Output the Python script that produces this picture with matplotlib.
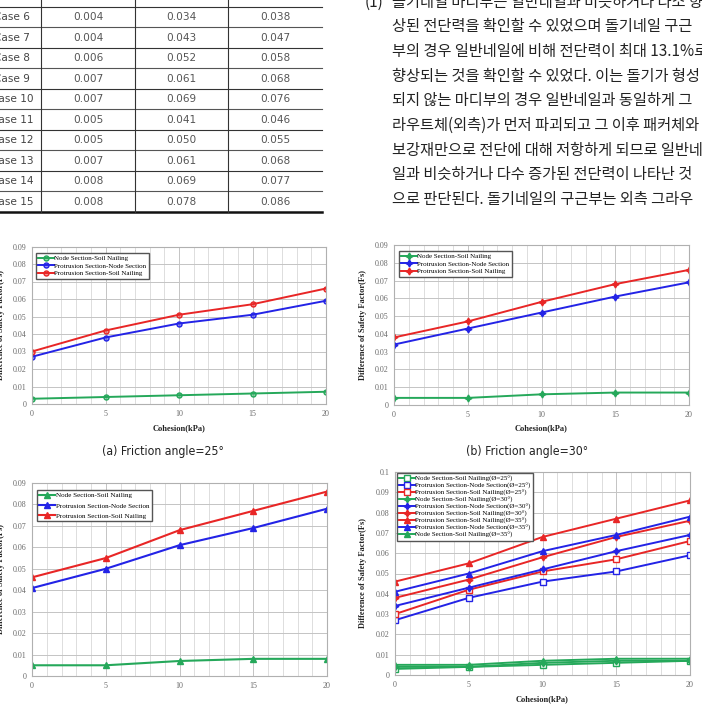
import matplotlib
matplotlib.use("Agg")
import matplotlib.pyplot as plt
from matplotlib.ticker import FuncFormatter, MultipleLocator

# ---------------- data ----------------
cohesion = [0, 5, 10, 15, 20]

node_soil_25 = [0.003, 0.004, 0.005, 0.006, 0.007]
prot_node_25 = [0.027, 0.038, 0.046, 0.051, 0.059]
prot_soil_25 = [0.030, 0.042, 0.051, 0.057, 0.066]

node_soil_30 = [0.004, 0.004, 0.006, 0.007, 0.007]
prot_node_30 = [0.034, 0.043, 0.052, 0.061, 0.069]
prot_soil_30 = [0.038, 0.047, 0.058, 0.068, 0.076]

node_soil_35 = [0.005, 0.005, 0.007, 0.008, 0.008]
prot_node_35 = [0.041, 0.050, 0.061, 0.069, 0.078]
prot_soil_35 = [0.046, 0.055, 0.068, 0.077, 0.086]

case_numbers = list(range(5, 16))
series_names = ["Node Section-Soil Nailing",
                "Protrusion Section-Node Section",
                "Protrusion Section-Soil Nailing"]
captions = ["(a) Friction angle=25\u00b0", "(b) Friction angle=30\u00b0"]

korean_lines = [
    "돌기네일 마디부는 일반네일과 비슷하거나 다소 향",
    "상된 전단력을 확인할 수 있었으며 돌기네일 구근",
    "부의 경우 일반네일에 비해 전단력이 최대 13.1%로",
    "향상되는 것을 확인할 수 있었다. 이는 돌기가 형성",
    "되지 않는 마디부의 경우 일반네일과 동일하게 그",
    "라우트체(외측)가 먼저 파괴되고 그 이후 패커체와",
    "보강재만으로 전단에 대해 저항하게 되므로 일반네",
    "일과 비슷하거나 다수 증가된 전단력이 나타난 것",
    "으로 판단된다. 돌기네일의 구근부는 외측 그라우",
]

# ---------------- style ----------------
GREEN = "#25a85a"
BLUE = "#2323e6"
RED = "#e82626"
W, H = 702, 707
SERIF = ["Liberation Serif", "DejaVu Serif"]

fig = plt.figure(figsize=(W / 100, H / 100), dpi=100)
fig.patch.set_facecolor("white")


def rect(l, top, r, bottom):
    return [l / W, 1 - bottom / H, (r - l) / W, (bottom - top) / H]


# ---------------- table ----------------
ax_t = fig.add_axes(rect(0, 0, 330, 216))
ax_t.set_xlim(0, 330)
ax_t.set_ylim(216, 0)
ax_t.axis("off")

row_h = 20.5
table_rows = []
for c in case_numbers:
    if c <= 5:
        src = (node_soil_25, prot_node_25, prot_soil_25, c - 1)
    elif c <= 10:
        src = (node_soil_30, prot_node_30, prot_soil_30, c - 6)
    else:
        src = (node_soil_35, prot_node_35, prot_soil_35, c - 11)
    i = src[3]
    table_rows.append((f"Case {c}", src[0][i], src[1][i], src[2][i]))

col_x = [12, 88, 181.5, 275]
for k, row in enumerate(table_rows):
    yc = -3.3 + k * row_h
    ax_t.text(col_x[0], yc, row[0], ha="center", va="center", fontsize=7.6,
              color="#444444", family="DejaVu Sans", clip_on=True)
    for j in range(3):
        ax_t.text(col_x[j + 1], yc, f"{row[j + 1]:.3f}", ha="center", va="center",
                  fontsize=7.6, color="#555555", family="DejaVu Sans", clip_on=True)
    if k < len(table_rows) - 1:
        yl = yc + row_h / 2
        ax_t.plot([0, 322], [yl, yl], color="#555555" if k % 2 else "#333333",
                  lw=0.8, clip_on=True)
ax_t.plot([0, 322], [212, 212], color="#111111", lw=1.8, clip_on=True)
for xv in [41, 135, 228]:
    ax_t.plot([xv, xv], [0, 212], color="#333333", lw=0.8, clip_on=True)

# ---------------- Korean paragraph ----------------
kfam = ["Noto Sans CJK KR", "DejaVu Sans"]
fig.text(365 / W, 1 - 2 / H, "(1)", fontsize=11, family=kfam, color="#222222",
         ha="left", va="center")
for i, line in enumerate(korean_lines):
    fig.text(392 / W, 1 - (2 + i * 24.7) / H, line, fontsize=11, family=kfam,
             color="#222222", ha="left", va="center")


# ---------------- charts ----------------
def style_axes(ax, ymax):
    ax.set_xlim(0, 20)
    ax.set_ylim(0, ymax)
    ax.xaxis.set_major_locator(MultipleLocator(5))
    ax.xaxis.set_minor_locator(MultipleLocator(1))
    ax.yaxis.set_major_locator(MultipleLocator(0.01))
    ax.yaxis.set_major_formatter(FuncFormatter(lambda v, p: f"{round(v, 3):g}"))
    ax.grid(True, which="major", color="#c4c4c4", lw=0.7)
    ax.grid(True, which="minor", axis="x", color="#d8d8d8", lw=0.6)
    ax.set_axisbelow(True)
    for s in ax.spines.values():
        s.set_color("#b0b0b0")
        s.set_linewidth(0.8)
    ax.tick_params(which="both", length=0, labelsize=5.8, colors="#6a6a6a", pad=4)
    for lab in ax.get_xticklabels() + ax.get_yticklabels():
        lab.set_family(SERIF)


def add_ylabel(ax, xcoord):
    ax.set_ylabel("Difference of Safety Factor(Fs)", fontsize=6, fontweight="bold",
                  family=SERIF, color="#222222")
    ax.yaxis.set_label_coords(xcoord, 0.5)


def add_xlabel(ax, ycoord):
    ax.set_xlabel("Cohesion(kPa)", fontsize=6, fontweight="bold", family=SERIF,
                  color="#222222")
    ax.xaxis.set_label_coords(0.5, ycoord)


def legend(ax, anchor, spacing, size=5):
    lg = ax.legend(loc="upper left", bbox_to_anchor=anchor, borderaxespad=0,
                   fancybox=False, framealpha=1, edgecolor="#555555",
                   prop={"family": SERIF, "size": size}, handlelength=2.2,
                   handletextpad=0.1, labelspacing=spacing, borderpad=0.35)
    lg.get_frame().set_linewidth(1.0)
    return lg


def light(c):
    return c + "80"


STAR4 = (4, 1, 0)
groups = [
    (node_soil_25, prot_node_25, prot_soil_25),
    (node_soil_30, prot_node_30, prot_soil_30),
    (node_soil_35, prot_node_35, prot_soil_35),
]
colors = [GREEN, BLUE, RED]

# (a)
ax_a = fig.add_axes(rect(32, 246.5, 326, 404))
style_axes(ax_a, 0.09)
for vals, col, name in zip(groups[0], colors, series_names):
    ax_a.plot(cohesion, vals, color=col, lw=1.4, marker="o", ms=3.6,
              mfc=light(col), mec=col, mew=1.0, label=name)
add_ylabel(ax_a, -0.093)
add_xlabel(ax_a, -0.125)
legend(ax_a, ((36 - 32) / 294, (404 - 253) / 157.5), 0.25)

# (b)
ax_b = fig.add_axes(rect(394, 245, 689, 405))
style_axes(ax_b, 0.09)
for vals, col, name in zip(groups[1], colors, series_names):
    ax_b.plot(cohesion, vals, color=col, lw=1.4, marker=STAR4, ms=5,
              mfc=col, mec=col, label=name)
add_ylabel(ax_b, -0.092)
add_xlabel(ax_b, -0.118)
legend(ax_b, ((399 - 394) / 295, (405 - 251) / 160), 0.25)

# (c)
ax_c = fig.add_axes(rect(32, 483, 327, 676))
style_axes(ax_c, 0.09)
for vals, col, name in zip(groups[2], colors, series_names):
    ax_c.plot(cohesion, vals, color=col, lw=1.5, marker="^", ms=4.2,
              mfc=col, mec=col, label=name)
add_ylabel(ax_c, -0.092)
legend(ax_c, ((37 - 32) / 295, (676 - 490) / 193), 0.6, size=5.1)

# (d)
ax_d = fig.add_axes(rect(395, 472, 690, 675))
style_axes(ax_d, 0.1)
d_order = [
    (0, 0, "25", "s"), (0, 1, "25", "s"), (0, 2, "25", "s"),
    (1, 0, "30", STAR4), (1, 1, "30", STAR4), (1, 2, "30", STAR4),
    (2, 2, "35", "^"), (2, 1, "35", "^"), (2, 0, "35", "^"),
]
for gi, si, ang, mk in d_order:
    col = colors[si]
    face = "white" if mk == "s" else col
    ax_d.plot(cohesion, groups[gi][si], color=col, lw=1.4, marker=mk,
              ms=4.2 if mk != STAR4 else 5, mfc=face, mec=col, mew=1.0,
              label=f"{series_names[si]}(\u00d8={ang}\u00b0)")
add_ylabel(ax_d, -0.095)
add_xlabel(ax_d, -0.098)
legend(ax_d, ((397 - 395) / 295, (675 - 473) / 203), 0.12)

# captions
for cx, txt in zip([163, 527], captions):
    fig.text(cx / W, 1 - 452 / H, txt, fontsize=8.8, family="DejaVu Sans",
             fontstretch="condensed", color="#222222", ha="center", va="center")

fig.savefig("out.png", dpi=100, facecolor="white")
